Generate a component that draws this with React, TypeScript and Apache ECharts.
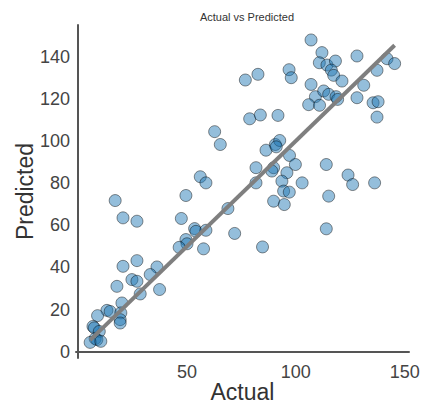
import React, { useEffect, useRef } from "react";
import * as echarts from "echarts";

const actual: number[] = [
  107.0, 112.0, 128.1, 110.8, 114.3, 118.2, 116.3, 117.4, 121.2, 141.9, 145.4, 137.3,
  96.9, 97.9, 76.8, 82.6, 107.0, 131.2, 109.0, 112.8, 115.1, 118.5, 119.2, 105.9,
  110.9, 128.1, 135.5, 137.8, 137.3, 78.8, 83.7, 91.8, 62.7,
  65.3, 86.3, 90.6, 92.6, 91.0, 97.1, 99.8, 114.0, 81.7, 89.8, 89.0, 95.9, 124.0,
  126.1, 136.2, 102.9, 93.6, 81.7, 94.4, 97.0, 89.8, 94.7, 115.1, 114.0, 84.7, 71.9,
  68.8, 56.1, 58.7, 49.5, 47.4, 17.0, 20.6, 27.0, 53.5, 54.1, 58.7, 49.5, 50.0, 46.4,
  57.6, 20.6, 27.0, 36.2,
  17.8, 24.7, 27.0, 28.5, 33.1, 37.4, 20.1, 13.2, 14.7, 8.9, 19.6, 19.3, 19.3, 6.8,
  7.4, 9.7, 7.8, 8.6, 5.5, 10.4,
];

const predicted: number[] = [
  147.9, 141.9, 140.3, 137.1, 136.0, 137.9, 133.6, 131.1, 128.4, 139.0, 136.7, 133.5,
  133.8, 130.0, 128.9, 131.6, 126.8, 126.4, 121.0, 123.7, 122.1, 121.0, 119.7, 117.2,
  116.9, 120.5, 118.1, 118.6, 111.3, 110.5, 112.3, 112.1, 104.4,
  98.3, 95.6, 98.3, 100.2, 97.2, 93.1, 88.8, 88.8, 87.3, 87.3, 85.7, 84.9, 83.8,
  79.3, 80.1, 80.1, 80.9, 80.1, 76.2, 75.7, 71.4, 69.8, 73.8, 58.3, 49.7, 56.1,
  67.9, 83.0, 80.1, 74.1, 63.2, 71.7, 63.5, 61.9, 58.4, 57.1, 57.6, 53.2, 51.2, 49.5,
  48.8, 40.5, 43.2, 40.2,
  31.0, 34.2, 33.4, 27.4, 36.6, 29.5, 23.1, 19.6, 19.1, 17.1, 18.4, 15.2, 13.6, 12.0,
  11.3, 9.6, 6.2, 5.7, 4.4, 4.9,
];

const xTicks: number[] = [50, 100, 150];
const yTicks: number[] = [0, 20, 40, 60, 80, 100, 120, 140];
const identityLine: number[] = [5.5, 145.4];

export default function App() {
  const ref = useRef<HTMLDivElement>(null);
  useEffect(() => {
    document.body.style.margin = "0";
    if (!ref.current) return;
    const chart = echarts.init(ref.current, undefined, { renderer: "svg" });
    const font = "'Liberation Sans', Arial, sans-serif";
    const axisCommon = {
      axisLine: { show: true, lineStyle: { color: "#555555", width: 2 } },
      axisTick: { show: false },
      splitLine: { show: false },
      nameLocation: "middle" as const,
      nameMoveOverlap: false,
      nameTextStyle: { fontSize: 23, lineHeight: 24, color: "#333333", fontFamily: font },
    };
    chart.setOption({
      animation: false,
      backgroundColor: "#ffffff",
      title: {
        text: "Actual vs Predicted",
        left: "242",
        top: 6,
        textAlign: "center",
        textStyle: { fontSize: 11, fontWeight: "normal", color: "#333333", fontFamily: font },
      },
      grid: { left: 76, right: 12, top: 25, bottom: 50, outerBoundsMode: "none", containLabel: false },
      xAxis: {
        type: "value",
        min: -1,
        max: 152,
        name: "Actual",
        nameGap: 22,
        ...axisCommon,
        axisLabel: {
          customValues: xTicks,
          fontSize: 18,
          color: "#444444",
          fontFamily: font,
          margin: 5,
        },
      },
      yAxis: {
        type: "value",
        min: -3,
        max: 155,
        name: "Predicted",
        nameGap: 39,
        ...axisCommon,
        axisLabel: {
          customValues: yTicks,
          fontSize: 18,
          color: "#444444",
          fontFamily: font,
          margin: 6,
        },
      },
      series: [
        {
          type: "scatter",
          data: actual.map((a, i) => [a, predicted[i]]),
          symbolSize: 12,
          itemStyle: {
            color: "rgba(31,119,180,0.6)",
            borderColor: "rgba(0,0,0,0.55)",
            borderWidth: 1,
          },
        },
        {
          type: "line",
          data: identityLine.map((v) => [v, v]),
          symbol: "none",
          lineStyle: { color: "#7f7f7f", width: 4 },
          z: 3,
        },
      ],
    });
    return () => chart.dispose();
  }, []);
  return <div ref={ref} style={{ width: 421, height: 408 }} />;
}
